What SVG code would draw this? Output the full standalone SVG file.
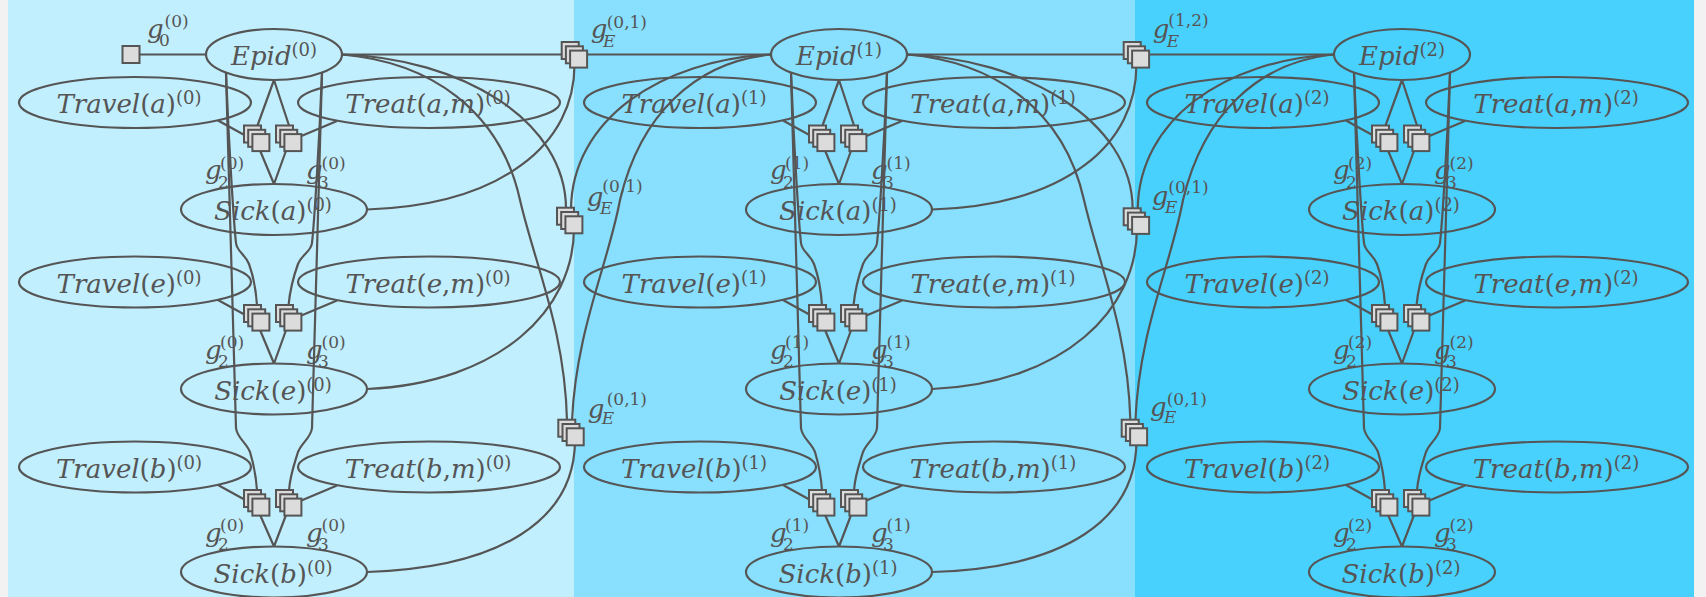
<svg xmlns="http://www.w3.org/2000/svg" width="1706" height="597" viewBox="0 0 1706 597">
<style>
.e{fill:none;stroke:#555;stroke-width:2.2}
.c{fill:none;stroke:#555;stroke-width:2.2}
.f{fill:#dcdcdc;stroke:#555;stroke-width:2}
.t{font-family:"DejaVu Serif","Liberation Serif",serif;font-size:26px;fill:#555}
.i{font-style:italic}
.s{font-size:17px}
.u{font-size:18px}
</style>
<defs>
<g id="stk"><rect class="f" x="0" y="0" width="17" height="17"/><rect class="f" x="4.2" y="4.3" width="17" height="17"/><rect class="f" x="8.4" y="8.6" width="17" height="17"/></g>
</defs>
<rect x="0" y="0" width="1706" height="597" fill="#f2f2f2"/>
<rect x="8" y="0" width="566" height="597" fill="#c2effe"/>
<rect x="574" y="0" width="561" height="597" fill="#88e0fe"/>
<rect x="1135" y="0" width="559" height="597" fill="#49d1fe"/>

<g id="connectors">
<path class="c" d="M140,54.5 L206,54.5"/>
<path class="c" d="M342,54.5 L575,54.5 M575,54.5 L771,54.5"/>
<path class="c" d="M907,54.5 L1137,54.5 M1137,54.5 L1334,54.5"/>
<g id="pc0">
<path class="c" d="M274,80 L257.5,125.5 M274,80 L289,125.5 M218,120.5 L248,137 M337,121 L299,137 M259,148 L274,184 M287,148 L274,184"/>
<path class="c" d="M218,300 L248,316.5 M337,300.5 L299,316.5 M259,327.5 L274,363.5 M287,327.5 L274,363.5"/>
<path class="c" d="M218,485 L248,501.5 M337,485.5 L299,501.5 M259,512.5 L274,546.5 M287,512.5 L274,546.5"/>
<path class="c" d="M226,73 C229,150 234,225 236,243 C237,252 245,254 249,264 C253,275 256,290 257,305.5"/>
<path class="c" d="M322,73 C319,150 314,225 312,243 C311,252 302,254 298,264 C294,275 290,290 288.5,305.5"/>
<path class="c" d="M226,73 L236,428 C237,438 246,442 250,452 C253,462 256,475 257,490.5"/>
<path class="c" d="M322,73 L312,428 C311,438 302,442 298,452 C295,462 290,475 289,490.5"/>
</g>
<g transform="translate(565,0)">
<path class="c" d="M274,80 L257.5,125.5 M274,80 L289,125.5 M218,120.5 L248,137 M337,121 L299,137 M259,148 L274,184 M287,148 L274,184"/>
<path class="c" d="M218,300 L248,316.5 M337,300.5 L299,316.5 M259,327.5 L274,363.5 M287,327.5 L274,363.5"/>
<path class="c" d="M218,485 L248,501.5 M337,485.5 L299,501.5 M259,512.5 L274,546.5 M287,512.5 L274,546.5"/>
<path class="c" d="M226,73 C229,150 234,225 236,243 C237,252 245,254 249,264 C253,275 256,290 257,305.5"/>
<path class="c" d="M322,73 C319,150 314,225 312,243 C311,252 302,254 298,264 C294,275 290,290 288.5,305.5"/>
<path class="c" d="M226,73 L236,428 C237,438 246,442 250,452 C253,462 256,475 257,490.5"/>
<path class="c" d="M322,73 L312,428 C311,438 302,442 298,452 C295,462 290,475 289,490.5"/>
</g>
<g transform="translate(1128,0)">
<path class="c" d="M274,80 L257.5,125.5 M274,80 L289,125.5 M218,120.5 L248,137 M337,121 L299,137 M259,148 L274,184 M287,148 L274,184"/>
<path class="c" d="M218,300 L248,316.5 M337,300.5 L299,316.5 M259,327.5 L274,363.5 M287,327.5 L274,363.5"/>
<path class="c" d="M218,485 L248,501.5 M337,485.5 L299,501.5 M259,512.5 L274,546.5 M287,512.5 L274,546.5"/>
<path class="c" d="M226,73 C229,150 234,225 236,243 C237,252 245,254 249,264 C253,275 256,290 257,305.5"/>
<path class="c" d="M322,73 C319,150 314,225 312,243 C311,252 302,254 298,264 C294,275 290,290 288.5,305.5"/>
<path class="c" d="M226,73 L236,428 C237,438 246,442 250,452 C253,462 256,475 257,490.5"/>
<path class="c" d="M322,73 L312,428 C311,438 302,442 298,452 C295,462 290,475 289,490.5"/>
</g>
<path class="c" d="M342,54.5 C460,58 566,120 566,209"/>
<path class="c" d="M771,54.5 C660,60 572,120 571,209"/>
<path class="c" d="M342,54.5 C430,62 500,110 520,200 C535,265 565,330 567,421"/>
<path class="c" d="M771,54.5 C695,62 640,115 620,200 C608,265 576,330 572,421"/>
<path class="c" d="M367,209.5 C500,205 576,145 574.5,62"/>
<path class="c" d="M367,389 C500,383 574,310 574,228"/>
<path class="c" d="M367,572 C500,568 575,520 575,440"/>
<path class="c" d="M907,54.5 C1022,58 1132.7,120 1132.7,209.5"/>
<path class="c" d="M1334,54.5 C1224,60 1138.7,120 1137.7,209.5"/>
<path class="c" d="M907,54.5 C995,62 1064,110 1084,200 C1099,265 1128,330 1130.4,421"/>
<path class="c" d="M1334,54.5 C1258,62 1203,115 1183,200 C1171,265 1139,330 1135.4,421"/>
<path class="c" d="M932,209.5 C1065,205 1138,145 1136.4,62"/>
<path class="c" d="M932,389 C1065,383 1137,310 1137,228"/>
<path class="c" d="M932,572 C1065,568 1136.5,520 1136.5,440"/>
</g>

<g id="g0"><rect class="f" x="122.5" y="46" width="17" height="17"/><text class="t i" x="147" y="37.5">g</text><text class="t s" x="159" y="45.5">0</text><text class="t s" x="164.6" y="27">(0)</text></g>

<g id="gE01top"><use href="#stk" x="561.7" y="42"/><text class="t i" x="590.7" y="37.5">g</text><text class="t s i" x="603" y="47">E</text><text class="t s" x="606.7" y="28">(0,1)</text></g>
<g id="gE01mid"><use href="#stk" x="557" y="207.7"/><text class="t i" x="586.7" y="205.5">g</text><text class="t s i" x="600" y="213.5">E</text><text class="t s" x="602.3" y="191.5">(0,1)</text></g>
<g id="gE01bot"><use href="#stk" x="558.3" y="419.7"/><text class="t i" x="587.7" y="417.5">g</text><text class="t s i" x="601.7" y="423.5">E</text><text class="t s" x="606.7" y="405">(0,1)</text></g>
<g id="gE12top"><use href="#stk" x="1123.7" y="42"/><text class="t i" x="1152.7" y="37.5">g</text><text class="t s i" x="1166.7" y="46.5">E</text><text class="t s" x="1168.3" y="26">(1,2)</text></g>
<g id="gE12mid"><use href="#stk" x="1123.7" y="208.3"/><text class="t i" x="1151.7" y="204.5">g</text><text class="t s i" x="1165" y="212.5">E</text><text class="t s" x="1168.3" y="193">(0,1)</text></g>
<g id="gE12bot"><use href="#stk" x="1121.7" y="419.7"/><text class="t i" x="1150" y="416">g</text><text class="t s i" x="1164" y="422.5">E</text><text class="t s" x="1166.7" y="405">(0,1)</text></g>

<g id="panel0">
<g id="epid0"><ellipse class="e" cx="274" cy="54.5" rx="68" ry="25.5"/><text class="t" x="274" y="65" text-anchor="middle"><tspan class="i">Epid</tspan><tspan class="u" dy="-9">(0)</tspan></text></g>
<g id="travel_a0"><ellipse class="e" cx="135" cy="102.5" rx="116" ry="25.5"/><text class="t" x="129" y="113" text-anchor="middle"><tspan class="i">Travel</tspan>(<tspan class="i">a</tspan>)<tspan class="u" dy="-9">(0)</tspan></text></g>
<g id="treat_a0"><ellipse class="e" cx="429" cy="102.5" rx="131" ry="25.5"/><text class="t" x="428" y="113" text-anchor="middle"><tspan class="i">Treat</tspan>(<tspan class="i">a</tspan>,<tspan class="i">m</tspan>)<tspan class="u" dy="-9">(0)</tspan></text></g>
<g id="g2a0"><use href="#stk" x="244" y="125.5"/><text class="t i" x="205" y="179">g</text><text class="t s" x="218" y="187.5">2</text><text class="t s" x="220" y="168.5">(0)</text></g>
<g id="g3a0"><use href="#stk" x="276" y="125.5"/><text class="t i" x="306" y="179">g</text><text class="t s" x="318" y="187.5">3</text><text class="t s" x="321.5" y="168.5">(0)</text></g>
<g id="sick_a0"><ellipse class="e" cx="274" cy="209.5" rx="93" ry="25.5"/><text class="t" x="273" y="220" text-anchor="middle"><tspan class="i">Sick</tspan>(<tspan class="i">a</tspan>)<tspan class="u" dy="-9">(0)</tspan></text></g>
<g id="travel_e0"><ellipse class="e" cx="135" cy="282" rx="116" ry="25.5"/><text class="t" x="129" y="292.5" text-anchor="middle"><tspan class="i">Travel</tspan>(<tspan class="i">e</tspan>)<tspan class="u" dy="-9">(0)</tspan></text></g>
<g id="treat_e0"><ellipse class="e" cx="429" cy="282" rx="131" ry="25.5"/><text class="t" x="428" y="292.5" text-anchor="middle"><tspan class="i">Treat</tspan>(<tspan class="i">e</tspan>,<tspan class="i">m</tspan>)<tspan class="u" dy="-9">(0)</tspan></text></g>
<g id="g2e0"><use href="#stk" x="244" y="305"/><text class="t i" x="205" y="358.5">g</text><text class="t s" x="218" y="367">2</text><text class="t s" x="220" y="348">(0)</text></g>
<g id="g3e0"><use href="#stk" x="276" y="305"/><text class="t i" x="306" y="358.5">g</text><text class="t s" x="318" y="367">3</text><text class="t s" x="321.5" y="348">(0)</text></g>
<g id="sick_e0"><ellipse class="e" cx="274" cy="389" rx="93" ry="25.5"/><text class="t" x="273" y="399.5" text-anchor="middle"><tspan class="i">Sick</tspan>(<tspan class="i">e</tspan>)<tspan class="u" dy="-9">(0)</tspan></text></g>
<g id="travel_b0"><ellipse class="e" cx="135" cy="467" rx="116" ry="25.5"/><text class="t" x="129" y="477.5" text-anchor="middle"><tspan class="i">Travel</tspan>(<tspan class="i">b</tspan>)<tspan class="u" dy="-9">(0)</tspan></text></g>
<g id="treat_b0"><ellipse class="e" cx="429" cy="467" rx="131" ry="25.5"/><text class="t" x="428" y="477.5" text-anchor="middle"><tspan class="i">Treat</tspan>(<tspan class="i">b</tspan>,<tspan class="i">m</tspan>)<tspan class="u" dy="-9">(0)</tspan></text></g>
<g id="g2b0"><use href="#stk" x="244" y="490"/><text class="t i" x="205" y="541.5">g</text><text class="t s" x="218" y="550">2</text><text class="t s" x="220" y="531">(0)</text></g>
<g id="g3b0"><use href="#stk" x="276" y="490"/><text class="t i" x="306" y="541.5">g</text><text class="t s" x="318" y="550">3</text><text class="t s" x="321.5" y="531">(0)</text></g>
<g id="sick_b0"><ellipse class="e" cx="274" cy="572" rx="93" ry="25.5"/><text class="t" x="273" y="582.5" text-anchor="middle"><tspan class="i">Sick</tspan>(<tspan class="i">b</tspan>)<tspan class="u" dy="-9">(0)</tspan></text></g>
</g>

<g id="panel1" transform="translate(565,0)">
<g id="epid1"><ellipse class="e" cx="274" cy="54.5" rx="68" ry="25.5"/><text class="t" x="274" y="65" text-anchor="middle"><tspan class="i">Epid</tspan><tspan class="u" dy="-9">(1)</tspan></text></g>
<g id="travel_a1"><ellipse class="e" cx="135" cy="102.5" rx="116" ry="25.5"/><text class="t" x="129" y="113" text-anchor="middle"><tspan class="i">Travel</tspan>(<tspan class="i">a</tspan>)<tspan class="u" dy="-9">(1)</tspan></text></g>
<g id="treat_a1"><ellipse class="e" cx="429" cy="102.5" rx="131" ry="25.5"/><text class="t" x="428" y="113" text-anchor="middle"><tspan class="i">Treat</tspan>(<tspan class="i">a</tspan>,<tspan class="i">m</tspan>)<tspan class="u" dy="-9">(1)</tspan></text></g>
<g id="g2a1"><use href="#stk" x="244" y="125.5"/><text class="t i" x="205" y="179">g</text><text class="t s" x="218" y="187.5">2</text><text class="t s" x="220" y="168.5">(1)</text></g>
<g id="g3a1"><use href="#stk" x="276" y="125.5"/><text class="t i" x="306" y="179">g</text><text class="t s" x="318" y="187.5">3</text><text class="t s" x="321.5" y="168.5">(1)</text></g>
<g id="sick_a1"><ellipse class="e" cx="274" cy="209.5" rx="93" ry="25.5"/><text class="t" x="273" y="220" text-anchor="middle"><tspan class="i">Sick</tspan>(<tspan class="i">a</tspan>)<tspan class="u" dy="-9">(1)</tspan></text></g>
<g id="travel_e1"><ellipse class="e" cx="135" cy="282" rx="116" ry="25.5"/><text class="t" x="129" y="292.5" text-anchor="middle"><tspan class="i">Travel</tspan>(<tspan class="i">e</tspan>)<tspan class="u" dy="-9">(1)</tspan></text></g>
<g id="treat_e1"><ellipse class="e" cx="429" cy="282" rx="131" ry="25.5"/><text class="t" x="428" y="292.5" text-anchor="middle"><tspan class="i">Treat</tspan>(<tspan class="i">e</tspan>,<tspan class="i">m</tspan>)<tspan class="u" dy="-9">(1)</tspan></text></g>
<g id="g2e1"><use href="#stk" x="244" y="305"/><text class="t i" x="205" y="358.5">g</text><text class="t s" x="218" y="367">2</text><text class="t s" x="220" y="348">(1)</text></g>
<g id="g3e1"><use href="#stk" x="276" y="305"/><text class="t i" x="306" y="358.5">g</text><text class="t s" x="318" y="367">3</text><text class="t s" x="321.5" y="348">(1)</text></g>
<g id="sick_e1"><ellipse class="e" cx="274" cy="389" rx="93" ry="25.5"/><text class="t" x="273" y="399.5" text-anchor="middle"><tspan class="i">Sick</tspan>(<tspan class="i">e</tspan>)<tspan class="u" dy="-9">(1)</tspan></text></g>
<g id="travel_b1"><ellipse class="e" cx="135" cy="467" rx="116" ry="25.5"/><text class="t" x="129" y="477.5" text-anchor="middle"><tspan class="i">Travel</tspan>(<tspan class="i">b</tspan>)<tspan class="u" dy="-9">(1)</tspan></text></g>
<g id="treat_b1"><ellipse class="e" cx="429" cy="467" rx="131" ry="25.5"/><text class="t" x="428" y="477.5" text-anchor="middle"><tspan class="i">Treat</tspan>(<tspan class="i">b</tspan>,<tspan class="i">m</tspan>)<tspan class="u" dy="-9">(1)</tspan></text></g>
<g id="g2b1"><use href="#stk" x="244" y="490"/><text class="t i" x="205" y="541.5">g</text><text class="t s" x="218" y="550">2</text><text class="t s" x="220" y="531">(1)</text></g>
<g id="g3b1"><use href="#stk" x="276" y="490"/><text class="t i" x="306" y="541.5">g</text><text class="t s" x="318" y="550">3</text><text class="t s" x="321.5" y="531">(1)</text></g>
<g id="sick_b1"><ellipse class="e" cx="274" cy="572" rx="93" ry="25.5"/><text class="t" x="273" y="582.5" text-anchor="middle"><tspan class="i">Sick</tspan>(<tspan class="i">b</tspan>)<tspan class="u" dy="-9">(1)</tspan></text></g>
</g>

<g id="panel2" transform="translate(1128,0)">
<g id="epid2"><ellipse class="e" cx="274" cy="54.5" rx="68" ry="25.5"/><text class="t" x="274" y="65" text-anchor="middle"><tspan class="i">Epid</tspan><tspan class="u" dy="-9">(2)</tspan></text></g>
<g id="travel_a2"><ellipse class="e" cx="135" cy="102.5" rx="116" ry="25.5"/><text class="t" x="129" y="113" text-anchor="middle"><tspan class="i">Travel</tspan>(<tspan class="i">a</tspan>)<tspan class="u" dy="-9">(2)</tspan></text></g>
<g id="treat_a2"><ellipse class="e" cx="429" cy="102.5" rx="131" ry="25.5"/><text class="t" x="428" y="113" text-anchor="middle"><tspan class="i">Treat</tspan>(<tspan class="i">a</tspan>,<tspan class="i">m</tspan>)<tspan class="u" dy="-9">(2)</tspan></text></g>
<g id="g2a2"><use href="#stk" x="244" y="125.5"/><text class="t i" x="205" y="179">g</text><text class="t s" x="218" y="187.5">2</text><text class="t s" x="220" y="168.5">(2)</text></g>
<g id="g3a2"><use href="#stk" x="276" y="125.5"/><text class="t i" x="306" y="179">g</text><text class="t s" x="318" y="187.5">3</text><text class="t s" x="321.5" y="168.5">(2)</text></g>
<g id="sick_a2"><ellipse class="e" cx="274" cy="209.5" rx="93" ry="25.5"/><text class="t" x="273" y="220" text-anchor="middle"><tspan class="i">Sick</tspan>(<tspan class="i">a</tspan>)<tspan class="u" dy="-9">(2)</tspan></text></g>
<g id="travel_e2"><ellipse class="e" cx="135" cy="282" rx="116" ry="25.5"/><text class="t" x="129" y="292.5" text-anchor="middle"><tspan class="i">Travel</tspan>(<tspan class="i">e</tspan>)<tspan class="u" dy="-9">(2)</tspan></text></g>
<g id="treat_e2"><ellipse class="e" cx="429" cy="282" rx="131" ry="25.5"/><text class="t" x="428" y="292.5" text-anchor="middle"><tspan class="i">Treat</tspan>(<tspan class="i">e</tspan>,<tspan class="i">m</tspan>)<tspan class="u" dy="-9">(2)</tspan></text></g>
<g id="g2e2"><use href="#stk" x="244" y="305"/><text class="t i" x="205" y="358.5">g</text><text class="t s" x="218" y="367">2</text><text class="t s" x="220" y="348">(2)</text></g>
<g id="g3e2"><use href="#stk" x="276" y="305"/><text class="t i" x="306" y="358.5">g</text><text class="t s" x="318" y="367">3</text><text class="t s" x="321.5" y="348">(2)</text></g>
<g id="sick_e2"><ellipse class="e" cx="274" cy="389" rx="93" ry="25.5"/><text class="t" x="273" y="399.5" text-anchor="middle"><tspan class="i">Sick</tspan>(<tspan class="i">e</tspan>)<tspan class="u" dy="-9">(2)</tspan></text></g>
<g id="travel_b2"><ellipse class="e" cx="135" cy="467" rx="116" ry="25.5"/><text class="t" x="129" y="477.5" text-anchor="middle"><tspan class="i">Travel</tspan>(<tspan class="i">b</tspan>)<tspan class="u" dy="-9">(2)</tspan></text></g>
<g id="treat_b2"><ellipse class="e" cx="429" cy="467" rx="131" ry="25.5"/><text class="t" x="428" y="477.5" text-anchor="middle"><tspan class="i">Treat</tspan>(<tspan class="i">b</tspan>,<tspan class="i">m</tspan>)<tspan class="u" dy="-9">(2)</tspan></text></g>
<g id="g2b2"><use href="#stk" x="244" y="490"/><text class="t i" x="205" y="541.5">g</text><text class="t s" x="218" y="550">2</text><text class="t s" x="220" y="531">(2)</text></g>
<g id="g3b2"><use href="#stk" x="276" y="490"/><text class="t i" x="306" y="541.5">g</text><text class="t s" x="318" y="550">3</text><text class="t s" x="321.5" y="531">(2)</text></g>
<g id="sick_b2"><ellipse class="e" cx="274" cy="572" rx="93" ry="25.5"/><text class="t" x="273" y="582.5" text-anchor="middle"><tspan class="i">Sick</tspan>(<tspan class="i">b</tspan>)<tspan class="u" dy="-9">(2)</tspan></text></g>
</g>
</svg>
